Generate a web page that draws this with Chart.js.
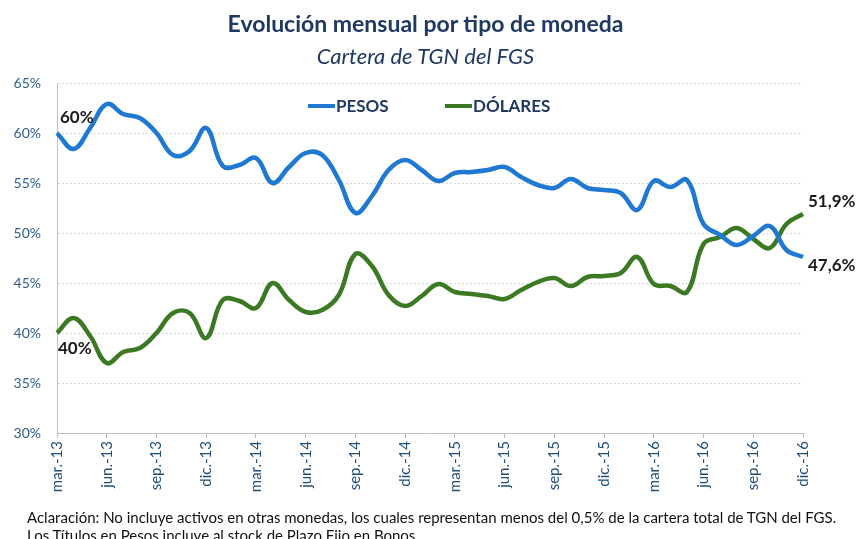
<!DOCTYPE html>
<html>
<head>
<meta charset="utf-8">
<script src="https://cdn.jsdelivr.net/npm/chart.js@4"></script>
<style>
  body { margin: 0; background: #fff; }
  #wrap { position: relative; width: 859px; height: 539px; overflow: hidden; font-family: Lato, 'Open Sans', sans-serif; }
  #chart { position: absolute; left: 0; top: 0; }
  .title { position: absolute; left: 0; width: 851px; text-align: center; color: #1f3864; }
  #t1 { top: 9px; font-size: 23px; font-weight: bold; }
  #t2 { top: 42px; font-size: 22px; font-style: italic; }
  #note { position: absolute; left: 27px; top: 508px; font-size: 15px; line-height: 18px; color: #111; white-space: nowrap; }
</style>
</head>
<body>
<div id="wrap">
  <canvas id="chart" width="859" height="539"></canvas>
  <div class="title" id="t1">Evolución mensual por tipo de moneda</div>
  <div class="title" id="t2">Cartera de TGN del FGS</div>
  <div id="note">Aclaración: No incluye activos en otras monedas, los cuales representan menos del 0,5% de la cartera total de TGN del FGS.<br>Los Títulos en Pesos incluye al stock de Plazo Fijo en Bonos.</div>
</div>
<script>
const months = [
    'mar.-13', 'abr.-13', 'may.-13', 'jun.-13', 'jul.-13', 'ago.-13', 'sep.-13', 'oct.-13', 'nov.-13', 'dic.-13',
    'ene.-14', 'feb.-14', 'mar.-14', 'abr.-14', 'may.-14', 'jun.-14', 'jul.-14', 'ago.-14', 'sep.-14', 'oct.-14', 'nov.-14', 'dic.-14',
    'ene.-15', 'feb.-15', 'mar.-15', 'abr.-15', 'may.-15', 'jun.-15', 'jul.-15', 'ago.-15', 'sep.-15', 'oct.-15', 'nov.-15', 'dic.-15',
    'ene.-16', 'feb.-16', 'mar.-16', 'abr.-16', 'may.-16', 'jun.-16', 'jul.-16', 'ago.-16', 'sep.-16', 'oct.-16', 'nov.-16', 'dic.-16'
];

const pesos = [
    60.0, 58.4, 60.5, 62.9, 61.9, 61.5, 60.0, 57.8, 58.2, 60.5,
    56.7, 56.8, 57.5, 55.0, 56.6, 58.0, 57.8, 55.3, 52.0, 53.7, 56.3, 57.3,
    56.3, 55.2, 56.0, 56.1, 56.3, 56.6, 55.6, 54.8, 54.5, 55.4, 54.5, 54.3,
    54.0, 52.3, 55.2, 54.6, 55.3, 50.9, 49.8, 48.8, 49.7, 50.7, 48.3, 47.6
];

const dolares = [
    40.0, 41.5, 39.7, 37.0, 38.1, 38.5, 40.0, 42.0, 42.0, 39.5,
    43.3, 43.2, 42.5, 45.0, 43.3, 42.1, 42.3, 43.8, 47.9, 46.7, 43.8, 42.7,
    43.7, 44.9, 44.1, 43.9, 43.7, 43.4, 44.3, 45.1, 45.5, 44.7, 45.6, 45.7,
    46.0, 47.6, 44.9, 44.7, 44.1, 48.9, 49.6, 50.5, 49.4, 48.5, 50.9, 51.9
];

const endLabels = { pesosFirst: '60%', dolaresFirst: '40%', pesosLast: '47,6%', dolaresLast: '51,9%' };

const BLUE = '#1f78d1';
const GREEN = '#3b7a23';

// legend + end labels drawn on top of the plot
const overlayPlugin = {
    id: 'overlay',
    afterDatasetsDraw(chart) {
        const { ctx, scales } = chart;
        const x = scales.x, y = scales.y;
        const last = months.length - 1;
        ctx.save();

        // legend
        ctx.lineWidth = 4;
        ctx.lineCap = 'butt';
        ctx.font = 'bold 17px Lato, sans-serif';
        ctx.textBaseline = 'middle';
        ctx.textAlign = 'left';
        [[308, 'PESOS', BLUE], [445, 'DÓLARES', GREEN]].forEach(([lx, text, color]) => {
            ctx.strokeStyle = color;
            ctx.beginPath();
            ctx.moveTo(lx, 106);
            ctx.lineTo(lx + 27, 106);
            ctx.stroke();
            ctx.fillStyle = '#1f3864';
            ctx.fillText(text, lx + 28, 107);
        });

        // data labels
        ctx.fillStyle = '#1a1a1a';
        ctx.font = 'bold 17px Lato, sans-serif';
        const x0 = x.getPixelForValue(0), xN = x.getPixelForValue(last);
        ctx.fillText(endLabels.pesosFirst, x0 + 3, y.getPixelForValue(pesos[0]) - 15);
        ctx.fillText(endLabels.dolaresFirst, x0 + 1, y.getPixelForValue(dolares[0]) + 16);
        ctx.fillText(endLabels.dolaresLast, xN + 5, y.getPixelForValue(dolares[last]) - 12);
        ctx.fillText(endLabels.pesosLast, xN + 5, y.getPixelForValue(pesos[last]) + 9);
        ctx.restore();
    }
};

new Chart(document.getElementById('chart'), {
    type: 'line',
    data: {
        labels: months,
        datasets: [{
            label: 'PESOS',
            data: pesos,
            borderColor: BLUE,
            borderWidth: 4.5,
            pointRadius: 0,
            tension: 0.4
        }, {
            label: 'DÓLARES',
            data: dolares,
            borderColor: GREEN,
            borderWidth: 4.5,
            pointRadius: 0,
            tension: 0.4
        }]
    },
    options: {
        responsive: false,
        animation: false,
        layout: { padding: { top: 83, right: 56, bottom: 0, left: 0 } },
        plugins: { legend: { display: false }, title: { display: false }, tooltip: { enabled: false } },
        scales: {
            x: {
                afterFit: s => { s.height = 106; },
                grid: {
                    drawOnChartArea: false,
                    tickLength: 5,
                    color: c => (c.index % 3 === 0 ? '#bfbfbf' : 'rgba(0,0,0,0)')
                },
                border: { color: '#bfbfbf', width: 1 },
                ticks: {
                    autoSkip: false,
                    minRotation: 90,
                    maxRotation: 90,
                    padding: 3,
                    color: '#1f4e79',
                    font: { family: 'Lato, sans-serif', size: 15 },
                    callback: (v, i) => (i % 3 === 0 ? months[i] : '')
                }
            },
            y: {
                min: 30,
                max: 65,
                afterFit: s => { s.width = 57; },
                grid: { color: '#d9d9d9', drawTicks: false },
                border: { color: '#bfbfbf', width: 1, dash: [2, 2] },
                ticks: {
                    stepSize: 5,
                    padding: 16,
                    color: '#2e5f8e',
                    font: { family: 'Lato, sans-serif', size: 14 },
                    callback: v => v + '%'
                }
            }
        }
    },
    plugins: [overlayPlugin]
});
</script>
</body>
</html>
